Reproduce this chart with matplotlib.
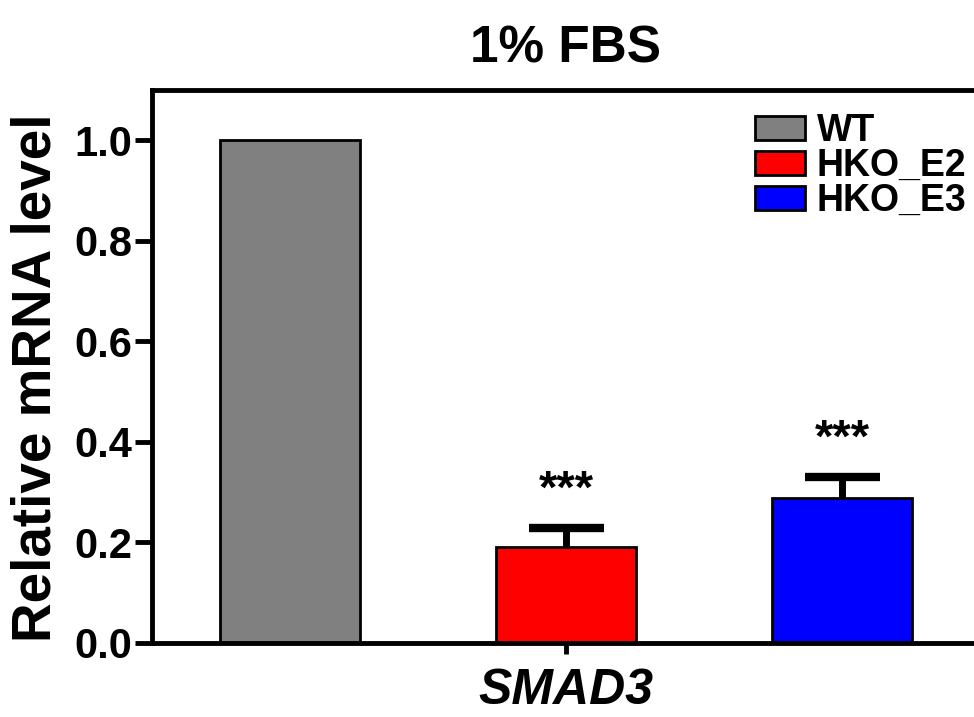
import numpy as np
import matplotlib
matplotlib.use('Agg')
import matplotlib.pyplot as plt

plt.rcParams['font.family'] = ['Liberation Sans', 'DejaVu Sans']
plt.rcParams['font.weight'] = 'bold'

groups = ['WT', 'HKO_E2', 'HKO_E3']
values = [1.0, 0.191, 0.288]
errors = [0.0, 0.038, 0.042]
colors = ['#808080', '#ff0000', '#0000ff']
stars = ['', '***', '***']
gene = 'SMAD3'

fig = plt.figure(figsize=(9.74, 7.17), dpi=100)
ax = fig.add_axes([152/974, 74/717, 828/974, 553/717])

x = np.arange(len(groups))
for i in range(len(groups)):
    ax.bar(x[i], values[i], width=0.505, color=colors[i], edgecolor='black',
           linewidth=2, label=groups[i], zorder=2)
    if errors[i] > 0:
        eb = ax.errorbar(x[i], values[i], yerr=[[0], [errors[i]]], fmt='none',
                         ecolor='black', elinewidth=5, capsize=27, capthick=6, zorder=1)
        eb[1][0].set_visible(False)   # drop the lower cap
    if stars[i]:
        ax.text(x[i], values[i] + errors[i] + 0.05, stars[i], ha='center', va='baseline',
                fontsize=34, fontweight='bold')

ax.set_xlim(-0.5, 2.5)
ax.set_ylim(0, 1.1)
ax.set_yticks([0.0, 0.2, 0.4, 0.6, 0.8, 1.0])
ax.set_yticklabels(['0.0', '0.2', '0.4', '0.6', '0.8', '1.0'])
ax.set_xticks([1])
ax.set_xticklabels([gene], fontstyle='italic', fontsize=36, fontweight='bold')
for sp_ in ax.spines.values():
    sp_.set_linewidth(3.5)
ax.tick_params(axis='y', labelsize=30, length=12, width=3.5, pad=2)
ax.tick_params(axis='x', length=8, width=3.5, pad=10)
for lab in ax.get_yticklabels():
    lab.set_fontweight('bold')

ax.set_ylabel('Relative mRNA level', fontsize=39.5, fontweight='bold')
ax.yaxis.set_label_coords(-0.108, 0.48)
ax.set_title('1% FBS', fontsize=37, fontweight='bold', pad=20)

leg = ax.legend(loc='upper left', bbox_to_anchor=(0.728, 0.958), frameon=False,
                fontsize=27, handlelength=1.33, handleheight=0.59, handletextpad=0.32,
                labelspacing=-0.03, borderaxespad=0, borderpad=0)
for t in leg.get_texts():
    t.set_fontweight('bold')
for p in leg.get_patches():
    p.set_linewidth(2)

fig.savefig('out.png', dpi=100)
